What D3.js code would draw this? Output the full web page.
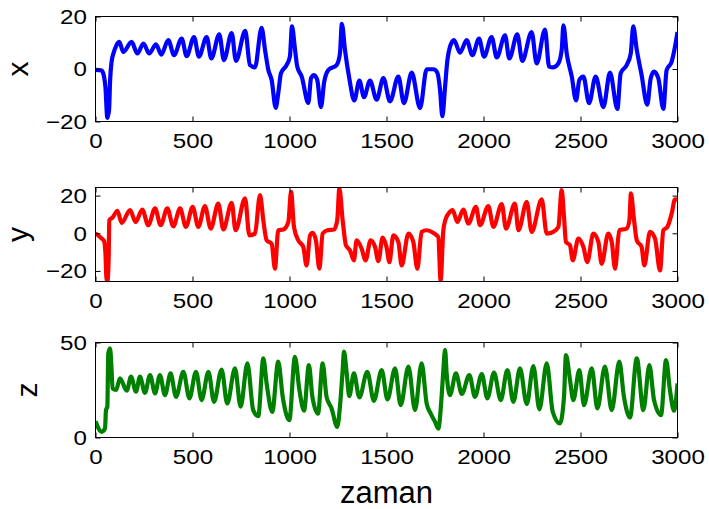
<!DOCTYPE html>
<html>
<head>
<meta charset="utf-8">
<script src="https://cdn.jsdelivr.net/npm/d3@7"></script>
<style>
  body { margin: 0; background: #fff; }
  svg { display: block; font-family: "Liberation Sans", Arial, sans-serif; }
</style>
</head>
<body>
<svg id="chart" width="709" height="509"></svg>
<script>
// time ticks shared by the three panels
const timeTicks = [0, 500, 1000, 1500, 2000, 2500, 3000];

// x(t): [time, value]
const xSeries = [
  [0,-0.3],[32,-0.6],[44,-2.9],[51,-6.7],[61,-18.6],[70,-15.5],[75,-4.8],[83,2.8],[95,6.5],[106,8.7],
  [123,10.3],[143,6.5],[186,10.3],[216,5.9],[247,9.7],[277,5.9],[312,9.4],[339,5.5],[375,11.0],[405,5.3],
  [444,11.6],[470,4.9],[508,12.2],[533,4.7],[573,12.2],[597,4.0],[638,13.2],[662,3.4],[702,13.7],[724,3.1],
  [772,14.5],[796,1.5],[822,0.6],[856,15.7],[874,7.2],[891,-0.4],[908,-4.2],[929,-14.8],[942,-9.2],[956,-1.6],
  [985,1.5],[1002,4.7],[1013,16.2],[1027,8.4],[1040,0.9],[1063,-2.9],[1097,-12.9],[1111,-3.5],[1126,-2.3],[1143,-4.2],
  [1162,-14.5],[1179,-4.8],[1200,-0.4],[1243,1.5],[1260,5.9],[1270,17.2],[1286,7.2],[1308,-3.5],[1334,-12.0],[1360,-4.4],
  [1384,-10.7],[1415,-4.4],[1449,-11.7],[1484,-3.5],[1518,-12.3],[1561,-2.9],[1590,-13.0],[1630,-1.4],[1673,-14.9],[1707,-0.1],
  [1742,-0.1],[1762,-1.4],[1776,-7.9],[1788,-18.0],[1802,-6.7],[1814,3.4],[1827,8.4],[1848,11.0],[1879,6.2],[1913,11.0],
  [1943,5.3],[1977,11.6],[2003,4.7],[2042,12.2],[2068,4.4],[2111,12.8],[2133,4.0],[2174,13.2],[2200,3.1],[2248,14.1],
  [2274,2.1],[2317,15.0],[2338,0.9],[2360,0.6],[2386,2.1],[2403,7.2],[2412,16.6],[2429,5.9],[2455,-2.9],[2477,-12.0],
  [2494,-4.2],[2515,-2.9],[2544,-13.0],[2578,-2.9],[2618,-14.5],[2652,-1.4],[2690,-15.2],[2707,-1.6],[2738,1.5],[2759,5.9],
  [2772,16.2],[2789,7.8],[2815,-2.3],[2844,-13.6],[2862,-3.5],[2879,-1.0],[2901,-3.5],[2927,-15.2],[2944,-0.4],[2970,2.8],
  [2987,8.4],[3000,14.1]
];

// y(t)
const ySeries = [
  [0,0],[32,-2.8],[44,-4.1],[51,-10.0],[56,-23.3],[61,-26.0],[68,-12.6],[71,6.9],[88,8.4],[113,11.9],
  [135,5.5],[178,12.3],[207,6.0],[241,12.6],[272,4.3],[307,13.2],[336,4.3],[370,13.2],[401,3.7],[436,13.2],
  [466,3.4],[501,14.0],[530,3.4],[564,14.4],[594,2.5],[633,15.8],[659,2.0],[702,16.2],[722,1.6],[771,18.5],
  [793,-1.1],[822,-0.2],[848,20.3],[865,6.9],[882,-3.7],[908,-5.5],[925,-18.8],[942,1.6],[968,2.0],[994,6.0],
  [1008,22.0],[1023,3.4],[1045,-3.7],[1071,-7.3],[1088,-17.1],[1106,-1.1],[1119,0.2],[1136,-3.7],[1154,-18.8],[1171,-0.2],
  [1195,1.6],[1229,2.0],[1246,6.9],[1257,23.8],[1274,6.9],[1291,-6.4],[1312,-9.1],[1332,-14.4],[1346,-3.7],[1372,-8.2],
  [1392,-14.4],[1418,-3.7],[1441,-7.3],[1458,-14.8],[1480,-2.3],[1500,-7.3],[1515,-15.3],[1535,-1.1],[1561,-4.6],[1578,-17.1],
  [1613,-0.2],[1638,-4.6],[1659,-18.8],[1681,0.7],[1707,1.6],[1742,0.2],[1767,-2.0],[1779,-25.1],[1793,1.6],[1803,6.9],
  [1827,11.4],[1841,12.3],[1865,6.0],[1896,12.6],[1922,5.2],[1961,14.0],[1982,4.3],[2025,14.4],[2051,3.4],[2094,15.5],
  [2116,2.5],[2162,15.8],[2180,1.6],[2223,16.7],[2248,0.7],[2300,18.0],[2326,-0.2],[2360,0.7],[2386,3.4],[2403,22.9],
  [2415,8.7],[2425,-4.6],[2446,-6.4],[2460,-14.4],[2489,-2.8],[2515,-7.3],[2535,-15.3],[2566,-0.2],[2592,-4.6],[2609,-16.2],
  [2643,-0.2],[2661,-4.6],[2678,-18.8],[2700,1.6],[2738,2.5],[2752,6.9],[2760,21.2],[2776,6.9],[2790,-3.7],[2815,-7.3],
  [2829,-17.1],[2858,0.7],[2884,-2.8],[2910,-19.7],[2927,1.6],[2948,3.4],[2970,10.5],[2987,18.0],[3000,18.0]
];

// z(t)
const zSeries = [
  [0,8.5],[32,3.0],[49,4.7],[54,14.4],[61,16.2],[66,44.3],[75,46.9],[83,35.5],[88,25.8],[106,25.0],
  [126,31.1],[161,24.6],[183,32.0],[209,24.1],[229,32.0],[255,23.5],[281,32.9],[307,23.2],[332,32.9],[358,22.3],
  [387,33.7],[415,21.4],[453,34.6],[484,20.6],[518,34.6],[547,19.7],[582,34.6],[611,18.8],[650,35.8],[679,17.9],
  [719,36.4],[748,16.2],[783,39.0],[813,14.4],[839,11.2],[865,41.7],[882,28.5],[911,13.5],[942,39.9],[965,21.4],
  [999,9.1],[1028,42.5],[1051,25.0],[1075,14.1],[1100,38.1],[1118,21.4],[1147,12.6],[1171,39.0],[1191,21.4],[1217,15.3],
  [1246,5.6],[1260,16.2],[1274,35.5],[1281,45.2],[1295,33.7],[1308,21.8],[1332,33.7],[1360,21.1],[1401,34.6],[1435,19.3],
  [1475,35.5],[1505,20.0],[1544,36.4],[1573,17.0],[1613,37.3],[1647,14.4],[1681,39.0],[1707,17.9],[1728,12.6],[1750,8.3],
  [1767,4.7],[1784,21.4],[1793,35.5],[1802,46.1],[1810,33.7],[1827,22.3],[1858,33.7],[1888,22.9],[1927,32.9],[1956,21.4],
  [1991,33.4],[2020,20.6],[2054,34.1],[2089,19.7],[2123,35.5],[2154,18.8],[2188,36.4],[2223,17.6],[2257,37.6],[2288,14.8],
  [2326,39.0],[2357,13.5],[2394,7.4],[2415,21.4],[2425,43.4],[2446,30.2],[2463,19.7],[2494,35.5],[2518,17.0],[2558,36.4],
  [2587,15.3],[2626,37.3],[2661,14.4],[2700,39.9],[2724,21.4],[2755,10.5],[2790,41.7],[2824,14.4],[2855,38.1],[2879,19.7],
  [2915,11.8],[2941,40.8],[2961,25.0],[2982,14.1],[3000,28.5]
];

const svg = d3.select("#chart");
const left = 95.5;
const right = 677.5;
const stretch = 1.15; // tick labels in the figure are a bit wide

const x = d3.scaleLinear().domain([0, 3000]).range([left, right]);

const panels = [
  { data: xSeries, color: "#0000ff", name: "x", top: 16.5, bottom: 121.5, domain: [-20, 20], ticks: [-20, 0, 20], labelX: 28 },
  { data: ySeries, color: "#ff0000", name: "y", top: 187.5, bottom: 281.5, domain: [-25.6, 24.3], ticks: [-20, 0, 20], labelX: 28 },
  { data: zSeries, color: "#008000", name: "z", top: 342.5, bottom: 437.5, domain: [0, 50], ticks: [0, 50], labelX: 36.5 }
];

panels.forEach((p, i) => {
  const y = d3.scaleLinear().domain(p.domain).range([p.bottom, p.top]);
  const g = svg.append("g");

  g.append("clipPath")
    .attr("id", "clip" + i)
    .append("rect")
    .attr("x", left)
    .attr("y", p.top)
    .attr("width", right - left)
    .attr("height", p.bottom - p.top);

  const line = d3.line()
    .x((d) => x(d[0]))
    .y((d) => y(d[1]))
    .curve(d3.curveMonotoneX);

  g.append("path")
    .datum(p.data)
    .attr("clip-path", "url(#clip" + i + ")")
    .attr("fill", "none")
    .attr("stroke", p.color)
    .attr("stroke-width", 4.2)
    .attr("stroke-linejoin", "round")
    .attr("d", line);

  // MATLAB-style box with inward ticks
  g.append("rect")
    .attr("x", left)
    .attr("y", p.top)
    .attr("width", right - left)
    .attr("height", p.bottom - p.top)
    .attr("fill", "none")
    .attr("stroke", "#000")
    .attr("stroke-width", 1);

  const tickLen = 5;
  const fmt = d3.format("d");

  const bottomAxis = d3.axisBottom(x).tickValues(timeTicks).tickFormat(fmt)
    .tickSizeInner(-tickLen).tickSizeOuter(0).tickPadding(11.5);
  const ax = g.append("g").attr("transform", `translate(0,${p.bottom})`).call(bottomAxis);
  ax.select(".domain").remove();

  const topAxis = d3.axisTop(x).tickValues(timeTicks).tickSizeInner(-tickLen).tickSizeOuter(0).tickFormat("");
  const at = g.append("g").attr("transform", `translate(0,${p.top})`).call(topAxis);
  at.select(".domain").remove();

  const leftAxis = d3.axisLeft(y).tickValues(p.ticks).tickFormat(fmt)
    .tickSizeInner(-tickLen).tickSizeOuter(0).tickPadding(7.5);
  const al = g.append("g").attr("transform", `translate(${left},0)`).call(leftAxis);
  al.select(".domain").remove();

  const rightAxis = d3.axisRight(y).tickValues(p.ticks).tickSizeInner(-tickLen).tickSizeOuter(0).tickFormat("");
  const ar = g.append("g").attr("transform", `translate(${right},0)`).call(rightAxis);
  ar.select(".domain").remove();

  g.selectAll(".tick text")
    .attr("font-family", '"Liberation Sans", Arial, sans-serif')
    .attr("font-size", 21)
    .attr("fill", "#000")
    .attr("transform", `scale(${stretch},1)`);
  g.selectAll(".tick line").attr("stroke", "#000");

  g.append("text")
    .attr("transform", `translate(${p.labelX},${(p.top + p.bottom) / 2}) rotate(-90)`)
    .attr("text-anchor", "middle")
    .attr("font-size", 30)
    .text(p.name);
});

svg.append("text")
  .attr("x", (left + right) / 2)
  .attr("y", 503)
  .attr("text-anchor", "middle")
  .attr("font-size", 31)
  .text("zaman");
</script>
</body>
</html>
